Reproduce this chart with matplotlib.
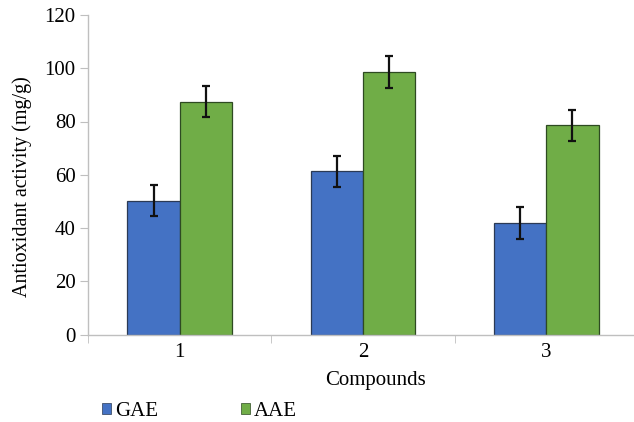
import numpy as np
import matplotlib
matplotlib.use("Agg")
import matplotlib.pyplot as plt
from matplotlib.patches import Patch

# values
compounds = ['1', '2', '3']
gae = [50.3, 61.3, 41.8]
gae_err = [5.9, 5.8, 5.9]
aae = [87.5, 98.6, 78.6]
aae_err = [5.8, 5.9, 5.8]
series_names = ['GAE', 'AAE']
yticks = [0, 20, 40, 60, 80, 100, 120]

plt.rcParams['font.family'] = ['Liberation Serif', 'DejaVu Serif']

fig = plt.figure(figsize=(6.34, 4.22), dpi=100)
ax = fig.add_axes([88/634, 87.5/422, 550/634, 319.5/422])

x = np.arange(len(compounds))
w = 0.285
ekw = dict(elinewidth=1.6, capthick=1.6, ecolor='#111111')
ax.bar(x - w/2, gae, w, yerr=gae_err, capsize=3, color='#4472C4',
       edgecolor='#2b3a55', linewidth=0.9, error_kw=ekw)
ax.bar(x + w/2, aae, w, yerr=aae_err, capsize=3, color='#70AD47',
       edgecolor='#2e4a22', linewidth=0.9, error_kw=ekw)

ax.set_xlim(-0.5, 2.5)
ax.set_ylim(0, 120)
ax.set_yticks(yticks)
ax.tick_params(axis='y', labelsize=15, length=6, color='#bfbfbf', pad=3)

# category labels centred, ticks on boundaries
ax.set_xticks(x)
ax.set_xticklabels(compounds)
ax.tick_params(axis='x', which='major', length=0, labelsize=15, pad=6)
ax.set_xticks([-0.5, 0.5, 1.5, 2.5], minor=True)
ax.tick_params(axis='x', which='minor', length=6, color='#bfbfbf')

for s in ['top', 'right']:
    ax.spines[s].set_visible(False)
for s in ['left', 'bottom']:
    ax.spines[s].set_color('#bfbfbf')
    ax.spines[s].set_linewidth(1.0)

fig.text(376/634, 1 - 380/422, 'Compounds', ha='center', va='center', fontsize=15)
fig.text(22/634, 1 - 187/422, 'Antioxidant activity (mg/g)', ha='center', va='center',
         rotation=90, fontsize=14.5)

handles = [Patch(facecolor='#4472C4', edgecolor='#2b3a55', linewidth=0.5),
           Patch(facecolor='#70AD47', edgecolor='#2e4a22', linewidth=0.5)]
fig.legend(handles, series_names, loc='center left', bbox_to_anchor=(102/634, 1 - 411/422),
           ncol=2, frameon=False, fontsize=15, handlelength=0.43, handleheight=0.43,
           handletextpad=0.18, columnspacing=4.0, borderpad=0, borderaxespad=0)

fig.savefig('out.png', dpi=100)
